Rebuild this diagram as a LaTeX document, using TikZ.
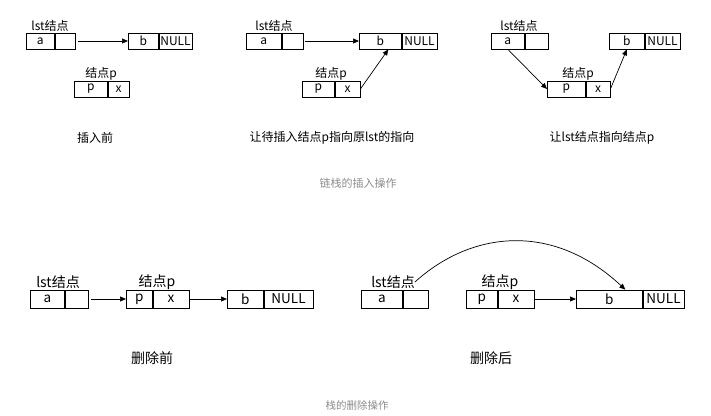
\documentclass[tikz,border=0pt]{standalone}
\usepackage{fontspec}
\setmainfont{Noto Sans CJK SC}
\usetikzlibrary{positioning,arrows.meta}

\begin{document}
\begin{tikzpicture}[x=1pt, y=-1pt,
  cell/.style={draw, line width=0.7pt, minimum height=16pt, inner sep=0pt, anchor=west, font=\fontsize{12}{12}\selectfont},
  bigcell/.style={cell, minimum height=18pt, font=\fontsize{13.5}{14}\selectfont},
  lbl/.style={inner sep=0pt, font=\fontsize{12}{12}\selectfont},
  biglbl/.style={inner sep=0pt, font=\fontsize{14}{14}\selectfont},
  note/.style={inner sep=0pt, text=black!45, font=\fontsize{11}{11}\selectfont},
  ptr/.style={-{Triangle[length=6pt,width=5pt]}, line width=0.7pt}]
  \useasboundingbox (0,0) rectangle (711,415);

  % insert, before
  \node[cell, minimum width=28pt] (a1) at (26,41) {a};
  \node[cell, minimum width=20pt, right=0pt of a1] (a1n) {};
  \node[cell, minimum width=30pt] (b1) at (128,41) {b};
  \node[cell, minimum width=33pt, right=0pt of b1] (b1n) {NULL};
  \node[cell, minimum width=33pt] (p1) at (74,89) {p};
  \node[cell, minimum width=21pt, right=0pt of p1] (p1n) {x};
  \node[lbl] (l1) at (50,26) {lst结点};
  \node[lbl] (q1) at (101,74) {结点p};
  \node[lbl] (c1) at (95,138) {插入前};
  \draw[ptr, shorten <=3pt] (a1n) -- (b1);

  % insert, step 1
  \node[cell, minimum width=35pt] (a2) at (246,41) {a};
  \node[cell, minimum width=21pt, right=0pt of a2] (a2n) {};
  \node[cell, minimum width=42pt] (b2) at (359,41) {b};
  \node[cell, minimum width=35pt, right=0pt of b2] (b2n) {NULL};
  \node[cell, minimum width=32pt] (p2) at (302,89) {p};
  \node[cell, minimum width=25pt, right=0pt of p2] (p2n) {x};
  \node[lbl] (l2) at (274,26) {lst结点};
  \node[lbl] (q2) at (331,74) {结点p};
  \node[lbl] (c2) at (332,138) {让待插入结点p指向原lst的指向};
  \draw[ptr, shorten <=2pt] (a2n) -- (b2);
  \draw[ptr] (p2n.east) -- ([xshift=8pt]b2.south);

  % insert, step 2
  \node[cell, minimum width=33pt] (a3) at (491,41) {a};
  \node[cell, minimum width=23pt, right=0pt of a3] (a3n) {};
  \node[cell, minimum width=35pt] (b3) at (609,41) {b};
  \node[cell, minimum width=35pt, right=0pt of b3] (b3n) {NULL};
  \node[cell, minimum width=38pt] (p3) at (547,89) {p};
  \node[cell, minimum width=24pt, right=0pt of p3] (p3n) {x};
  \node[lbl] (l3) at (519,26) {lst结点};
  \node[lbl] (q3) at (578,74) {结点p};
  \node[lbl] (c3) at (602,138) {让lst结点指向结点p};
  \draw[ptr] (a3.south) -- (p3.west);
  \draw[ptr] (p3n.east) -- (b3.south);

  \node[note] (t1) at (358,183) {链栈的插入操作};

  % delete, before
  \node[bigcell, minimum width=34pt] (a4) at (30,299) {a};
  \node[bigcell, minimum width=23pt, right=0pt of a4] (a4n) {};
  \node[bigcell, minimum width=26pt] (p4) at (126,299) {p};
  \node[bigcell, minimum width=36pt, right=0pt of p4] (p4n) {x};
  \node[bigcell, minimum width=36pt] (b4) at (227,299) {b};
  \node[bigcell, minimum width=49pt, right=0pt of b4] (b4n) {NULL};
  \node[biglbl] (l4) at (58,282) {lst结点};
  \node[biglbl] (q4) at (157,282) {结点p};
  \node[biglbl] (c4) at (152,358) {删除前};
  \draw[ptr, shorten <=3pt] (a4n) -- (p4);
  \draw[ptr, shorten <=1pt] (p4n) -- (b4);

  % delete, after
  \node[bigcell, minimum width=41pt] (a5) at (361,299) {a};
  \node[bigcell, minimum width=25pt, right=0pt of a5] (a5n) {};
  \node[bigcell, minimum width=31pt] (p5) at (466,299) {p};
  \node[bigcell, minimum width=36pt, right=0pt of p5] (p5n) {x};
  \node[bigcell, minimum width=66pt] (b5) at (576,299) {b};
  \node[bigcell, minimum width=41pt, right=0pt of b5] (b5n) {NULL};
  \node[biglbl] (l5) at (393,282) {lst结点};
  \node[biglbl] (q5) at (500,282) {结点p};
  \node[biglbl] (c5) at (491,358) {删除后};
  \draw[ptr, shorten <=1pt] (p5n) -- (b5);
  \draw[ptr] (l5.east) .. controls +(55,-50) and +(-74,-69) .. ([xshift=16pt]b5.north);

  \node[note, font=\fontsize{10.5}{11}\selectfont] (t2) at (357,405) {栈的删除操作};
\end{tikzpicture}
\end{document}
